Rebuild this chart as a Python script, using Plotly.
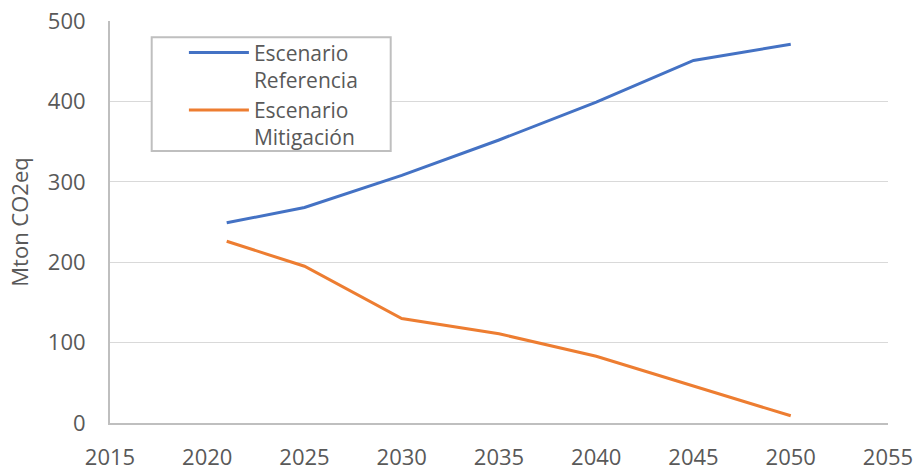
import plotly.graph_objects as go

years = [2021, 2025, 2030, 2035, 2040, 2045, 2050]
referencia = [249, 268, 308, 352, 399, 451, 471]
mitigacion = [226, 195, 130, 111, 83, 46, 9]

x_ticks = [2015, 2020, 2025, 2030, 2035, 2040, 2045, 2050, 2055]
y_ticks = [0, 100, 200, 300, 400, 500]

font_family = "Open Sans, Noto Sans, sans-serif"
text_color = "#595959"

fig = go.Figure()
fig.add_trace(go.Scatter(
    x=years, y=referencia, mode="lines", name="Escenario<br>Referencia",
    line=dict(color="#4472C4", width=3),
))
fig.add_trace(go.Scatter(
    x=years, y=mitigacion, mode="lines", name="Escenario<br>Mitigación",
    line=dict(color="#ED7D31", width=3),
))

# frame around the legend entries
fig.add_shape(
    type="rect", xref="paper", yref="paper",
    x0=0.0536, x1=0.3608, y0=0.6766, y1=0.9595,
    line=dict(color="#bfbfbf", width=2), fillcolor="white", layer="above",
)

fig.update_layout(
    width=917, height=470,
    margin=dict(l=110, r=29, t=21, b=47, autoexpand=False),
    paper_bgcolor="white", plot_bgcolor="white",
    font=dict(family=font_family, size=21, color=text_color),
    showlegend=True,
    legend=dict(
        x=0.095, y=0.972, xanchor="left", yanchor="top",
        borderwidth=0, bgcolor="rgba(0,0,0,0)",
        valign="top", tracegroupgap=0,
        font=dict(family=font_family, size=21, color=text_color),
        itemwidth=60,
    ),
    xaxis=dict(
        range=[2015, 2055], tickvals=x_ticks, ticktext=[str(v) for v in x_ticks],
        showgrid=False, zeroline=False, automargin=False,
        showline=True, linecolor="#bfbfbf", linewidth=2,
        ticks="outside", ticklen=14, tickcolor="rgba(0,0,0,0)",
        tickfont=dict(size=22, color=text_color),
    ),
    yaxis=dict(
        range=[0, 500], tickvals=y_ticks, automargin=False,
        showgrid=True, gridcolor="#d9d9d9", gridwidth=1,
        zeroline=False,
        showline=True, linecolor="#bfbfbf", linewidth=2,
        ticks="outside", ticklen=18, tickcolor="rgba(0,0,0,0)",
        tickfont=dict(size=22, color=text_color),
        title=dict(text="Mton CO2eq", font=dict(size=22, color=text_color), standoff=13),
    ),
)

fig.write_html("out.html")
